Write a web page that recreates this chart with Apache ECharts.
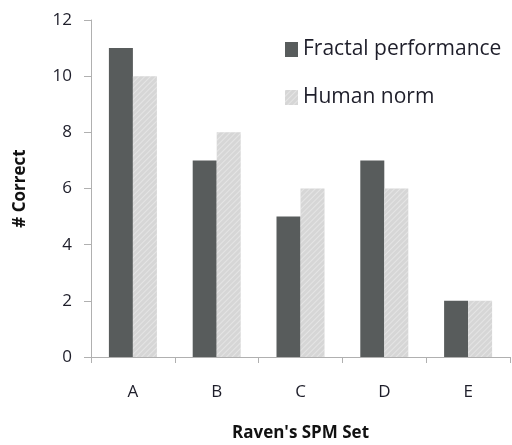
<!DOCTYPE html>
<html><head><meta charset="utf-8">
<script src="https://cdn.jsdelivr.net/npm/echarts@6/dist/echarts.min.js"></script>
<style>html,body{margin:0;padding:0;background:#fff}#c{width:512px;height:445px}</style>
</head><body><div id="c"></div>
<script>
const categories = ['A','B','C','D','E'];
const fractal = [11,7,5,7,2];
const human = [10,8,6,6,2];
const yTicks = [0,2,4,6,8,10,12];

const chart = echarts.init(document.getElementById('c'), null, {renderer:'canvas'});
const font = '"Open Sans", "DejaVu Sans", sans-serif';
chart.setOption({
  animation:false,
  textStyle:{fontFamily:font},
  grid:{left:91,right:2,top:20,bottom:88,containLabel:false,outerBoundsMode:'none'},
  legend:{
    orient:'vertical', left:280, top:34, itemGap:27,
    itemWidth:13, itemHeight:15, icon:'rect',
    textStyle:{fontSize:21,color:'#1e1e2a',fontFamily:font},
    data:['Fractal performance','Human norm']
  },
  xAxis:{
    type:'category', data:categories,
    name:"Raven's SPM Set", nameLocation:'middle', nameGap:68,
    nameTextStyle:{fontWeight:'bold',fontSize:17,color:'#111',fontFamily:font},
    axisLine:{lineStyle:{color:'#b0b0b0',width:1}},
    axisTick:{show:true,inside:false,length:6,lineStyle:{color:'#b0b0b0'}},
    axisLabel:{fontSize:17,color:'#1e1e2a',margin:27}
  },
  yAxis:{
    type:'value', min:0, max:12, interval:2,
    name:'# Correct', nameLocation:'middle', nameGap:62, nameRotate:90,
    nameTextStyle:{fontWeight:'bold',fontSize:17,color:'#111',fontFamily:font},
    axisLine:{show:true,lineStyle:{color:'#b0b0b0',width:1}},
    axisTick:{show:true,length:7,lineStyle:{color:'#b0b0b0'}},
    splitLine:{show:false},
    axisLabel:{fontSize:17,color:'#1e1e2a',margin:19}
  },
  series:[
    {name:'Fractal performance',type:'bar',data:fractal,barWidth:24,barGap:'0%',
     itemStyle:{color:'#585c5c'}},
    {name:'Human norm',type:'bar',data:human,barWidth:24,
     itemStyle:{color:'#d6d6d6',decal:{symbol:'rect',dashArrayX:[1,0],dashArrayY:[1,3],rotation:-Math.PI/4,color:'rgba(255,255,255,0.35)'}}}
  ]
});
</script></body></html>
